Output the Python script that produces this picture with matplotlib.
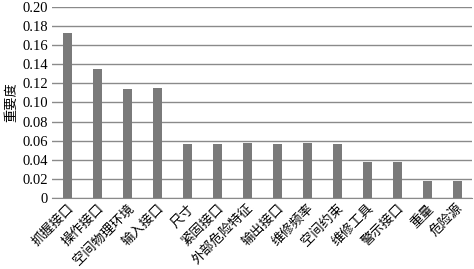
import matplotlib
matplotlib.use("Agg")
import matplotlib.pyplot as plt
import numpy as np

categories = ["抓握接口", "操作接口", "空间物理环境", "输入接口", "尺寸", "紧固接口",
              "外部危险特征", "输出接口", "维修频率", "空间约束", "维修工具", "警示接口",
              "重量", "危险源"]
values = [0.173, 0.135, 0.114, 0.115, 0.057, 0.057, 0.058, 0.057, 0.058, 0.057,
          0.038, 0.038, 0.018, 0.018]
yticks = [0, 0.02, 0.04, 0.06, 0.08, 0.10, 0.12, 0.14, 0.16, 0.18, 0.20]
ytick_labels = ["0", "0.02", "0.04", "0.06", "0.08", "0.10", "0.12", "0.14", "0.16", "0.18", "0.20"]

cjk = ["Noto Sans CJK SC", "DejaVu Sans"]
serif = ["Liberation Serif", "DejaVu Serif"]

fig = plt.figure(figsize=(4.74, 2.69), dpi=100)
ax = fig.add_axes([0.110, 0.264, 0.886, 0.710])

x = np.arange(len(categories))
ax.bar(x, values, width=0.3, color="#7a7a7a", zorder=3)

ax.set_xlim(-0.5, len(categories) - 0.5)
ax.set_ylim(0, 0.20)
ax.set_yticks(yticks)
ax.set_yticklabels(ytick_labels, fontfamily=serif, fontsize=10.5)
ax.yaxis.grid(True, color="#8a8a8a", linewidth=1.0, zorder=0)
ax.set_axisbelow(True)

ax.set_xticks(x)
ax.set_xticklabels(categories, rotation=45, ha="right", rotation_mode="anchor",
                   fontfamily=cjk, fontsize=9.5)
ax.tick_params(axis="both", length=0, pad=3)

for s in ["top", "right", "left"]:
    ax.spines[s].set_visible(False)
ax.spines["bottom"].set_color("#8a8a8a")

ax.set_ylabel("重要度", fontfamily=cjk, fontsize=9.5, labelpad=3)

fig.savefig("out.png", dpi=100)
